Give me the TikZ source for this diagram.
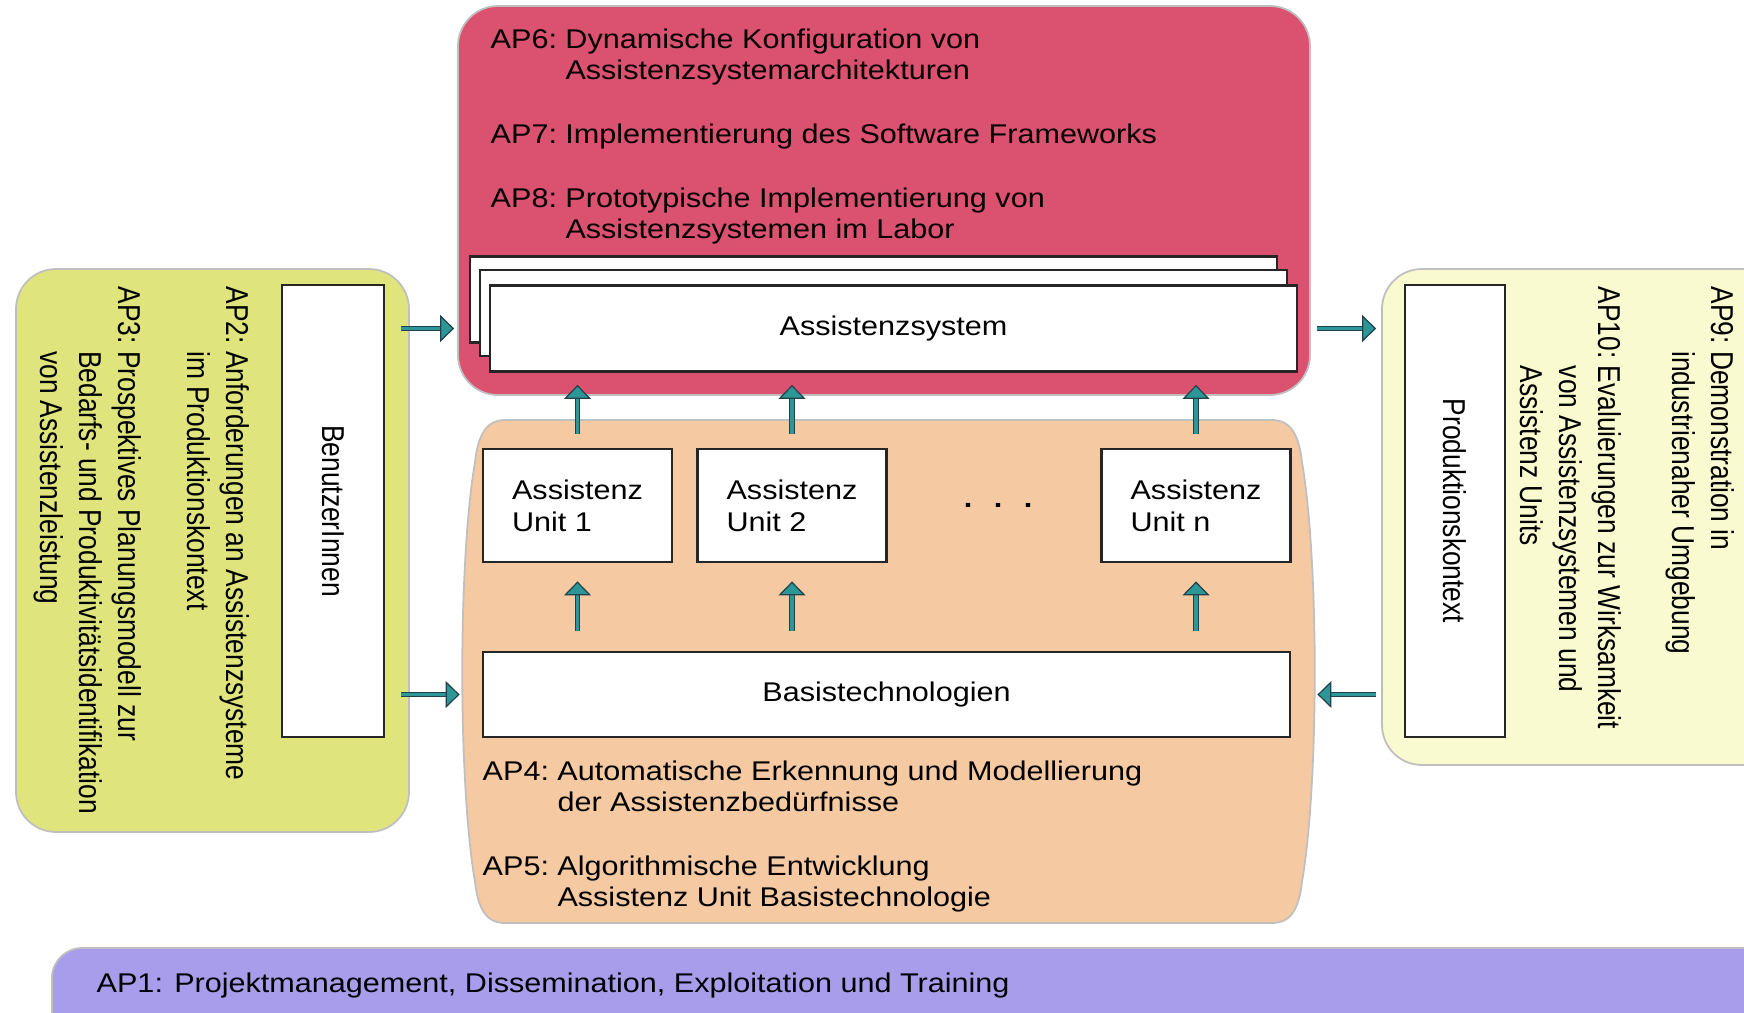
\documentclass[tikz,border=0pt]{standalone}
\usepackage{fontspec}
\setmainfont{Liberation Sans}[FakeStretch=1.13]
\newfontfamily\rotfont{Liberation Sans}
\usepackage{graphicx}
\usetikzlibrary{arrows.meta}

\definecolor{apred}{RGB}{219,82,112}
\definecolor{appeach}{RGB}{245,201,162}
\definecolor{apgreen}{RGB}{224,228,125}
\definecolor{apcream}{RGB}{250,250,208}
\definecolor{appurple}{RGB}{168,157,235}
\definecolor{arrteal}{RGB}{45,150,150}
\definecolor{arrdark}{RGB}{35,65,75}

\newcommand{\apfont}{\fontsize{7.7}{9.1}\selectfont}
\newcommand{\rottext}[1]{{\rotfont\fontsize{7.5}{9.2}\selectfont\scalebox{1}[1.2]{#1}}}

\begin{document}
\begin{tikzpicture}[
    area/.style={rectangle, rounded corners=0.4cm, draw=black!25, line width=0.5pt, inner sep=0pt},
    box/.style={rectangle, draw=black!85, fill=white, line width=0.8pt, inner sep=0pt, font=\apfont},
    aptext/.style={anchor=base west, inner sep=0pt, font=\apfont},
    aprot/.style={anchor=base west, inner sep=0pt, rotate=-90},
    flow/.style={draw=arrdark, double=arrteal, double distance=0.035cm, line width=0.012cm,
                 -{Triangle[length=0.14cm, width=0.27cm, fill=arrteal]}}
  ]
          % Variables
          \def \boxw  {8.07}
          \def \unitw {1.89}
          \def \unith {1.13}

          \useasboundingbox (0,0) rectangle (17.44,10.12);

          % Areas
          \node[area, fill=apred, minimum width=8.52cm, minimum height=3.89cm] (sysarea) at (8.84,8.115) {};
          \draw[fill=appeach, draw=black!25, line width=0.5pt]
            (5.05,5.92) -- (12.72,5.92)
            .. controls (12.92,5.92) and (12.99,5.75) .. (13.02,5.5)
            .. controls (13.19,4.5) and (13.19,2.3) .. (13.02,1.3)
            .. controls (12.99,1.05) and (12.92,0.89) .. (12.72,0.89)
            -- (5.05,0.89)
            .. controls (4.85,0.89) and (4.78,1.05) .. (4.75,1.3)
            .. controls (4.58,2.3) and (4.58,4.5) .. (4.75,5.5)
            .. controls (4.78,5.75) and (4.85,5.92) .. (5.05,5.92) -- cycle;
          \node[area, fill=apgreen, minimum width=3.93cm, minimum height=5.63cm] (userarea) at (2.125,4.615) {};
          \node[area, fill=apcream, minimum width=4.5cm, minimum height=4.96cm] (ctxarea) at (16.07,4.95) {};
          \node[area, fill=appurple, rounded corners=0.3cm, minimum width=17.98cm, minimum height=0.94cm] (mgmtarea) at (9.51,0.17) {};

          % Assistenzsystem
          \node[box, minimum width=\boxw cm, minimum height=0.86cm] (sysback) at (8.735,7.125) {};
          \node[box, minimum width=\boxw cm, minimum height=0.86cm] (sysmid) at (8.835,6.99) {};
          \node[box, minimum width=\boxw cm, minimum height=0.86cm] (sys) at (8.935,6.835) {Assistenzsystem};

          % Units
          \node[box, align=left, minimum width=\unitw cm, minimum height=\unith cm] (u1) at (5.775,5.065) {Assistenz\\Unit 1};
          \node[box, align=left, minimum width=\unitw cm, minimum height=\unith cm] (u2) at (7.92,5.065) {Assistenz\\Unit 2};
          \node[box, align=left, minimum width=\unitw cm, minimum height=\unith cm] (un) at (11.96,5.065) {Assistenz\\Unit n};
          \node[anchor=base, inner sep=0pt, font=\apfont\bfseries] (dots) at (9.98,5.05) {.\hspace{0.215cm}.\hspace{0.215cm}.};

          \node[box, minimum width=\boxw cm, minimum height=0.85cm] (basis) at (8.865,3.175) {Basistechnologien};

          % Side boxes
          \node[box, rotate=-90, minimum width=4.52cm, minimum height=1.02cm] (users) at (3.33,5.01) {\rottext{BenutzerInnen}};
          \node[box, rotate=-90, minimum width=4.52cm, minimum height=1.00cm] (prod) at (14.55,5.01) {\rottext{Produktionskontext}};

          % Work packages
          \node[aptext] (ap6) at (4.90,9.64) {\begin{tabular}[t]{@{}l@{\ }l@{}}AP6: & Dynamische Konfiguration von\\ & Assistenzsystemarchitekturen\end{tabular}};
          \node[aptext] (ap7) at (4.90,8.69) {\begin{tabular}[t]{@{}l@{\ }l@{}}AP7: & Implementierung des Software Frameworks\end{tabular}};
          \node[aptext] (ap8) at (4.90,8.05) {\begin{tabular}[t]{@{}l@{\ }l@{}}AP8: & Prototypische Implementierung von\\ & Assistenzsystemen im Labor\end{tabular}};
          \node[aptext] (ap4) at (4.82,2.32) {\begin{tabular}[t]{@{}l@{\ }l@{}}AP4: & Automatische Erkennung und Modellierung\\ & der Assistenzbedürfnisse\end{tabular}};
          \node[aptext] (ap5) at (4.82,1.37) {\begin{tabular}[t]{@{}l@{\ }l@{}}AP5: & Algorithmische Entwicklung\\ & Assistenz Unit Basistechnologie\end{tabular}};
          \node[aptext] (ap1) at (0.96,0.20) {AP1: Projektmanagement, Dissemination, Exploitation und Training};

          \node[aprot] (ap2) at (2.26,7.26) {\rottext{\begin{tabular}[t]{@{}l@{\ }l@{}}AP2: & Anforderungen an Assistenzsysteme\\ & im Produktionskontext\end{tabular}}};
          \node[aprot] (ap3) at (1.18,7.26) {\rottext{\begin{tabular}[t]{@{}l@{\ }l@{}}AP3: & Prospektives Planungsmodell zur\\ & Bedarfs- und Produktivitätsidentifikation\\ & von Assistenzleistung\end{tabular}}};
          \node[aprot] (ap9) at (17.11,7.26) {\rottext{\begin{tabular}[t]{@{}l@{\ }l@{}}AP9: & Demonstration in\\ & industrienaher Umgebung\end{tabular}}};
          \node[aprot] (ap10) at (15.98,7.26) {\rottext{\begin{tabular}[t]{@{}l@{\ }l@{}}AP10: & Evaluierungen zur Wirksamkeit\\ & von Assistenzsystemen und\\ & Assistenz Units\end{tabular}}};

          % Arrows
          \foreach \u in {u1,u2,un}{
            \draw[flow, shorten <=0.14cm, shorten >=0.12cm] (\u.north) -- (\u.north |- sys.south);
            \draw[flow, shorten <=0.2cm, shorten >=0.18cm] (\u.south |- basis.north) -- (\u.south);
          }
          \draw[flow, shorten <=0.16cm, shorten >=0.03cm] (users.north |- sys.west) -- (sysarea.west |- sys.west);
          \draw[flow, shorten <=0.16cm, shorten >=0.22cm] (users.north |- basis.west) -- (basis.west);
          \draw[flow, shorten <=0.06cm, shorten >=0.05cm] (sysarea.east |- sys.east) -- (ctxarea.west |- sys.east);
          \draw[flow, shorten <=0.05cm, shorten >=0.26cm] (ctxarea.west |- basis.east) -- (basis.east);

        \end{tikzpicture}
\end{document}
